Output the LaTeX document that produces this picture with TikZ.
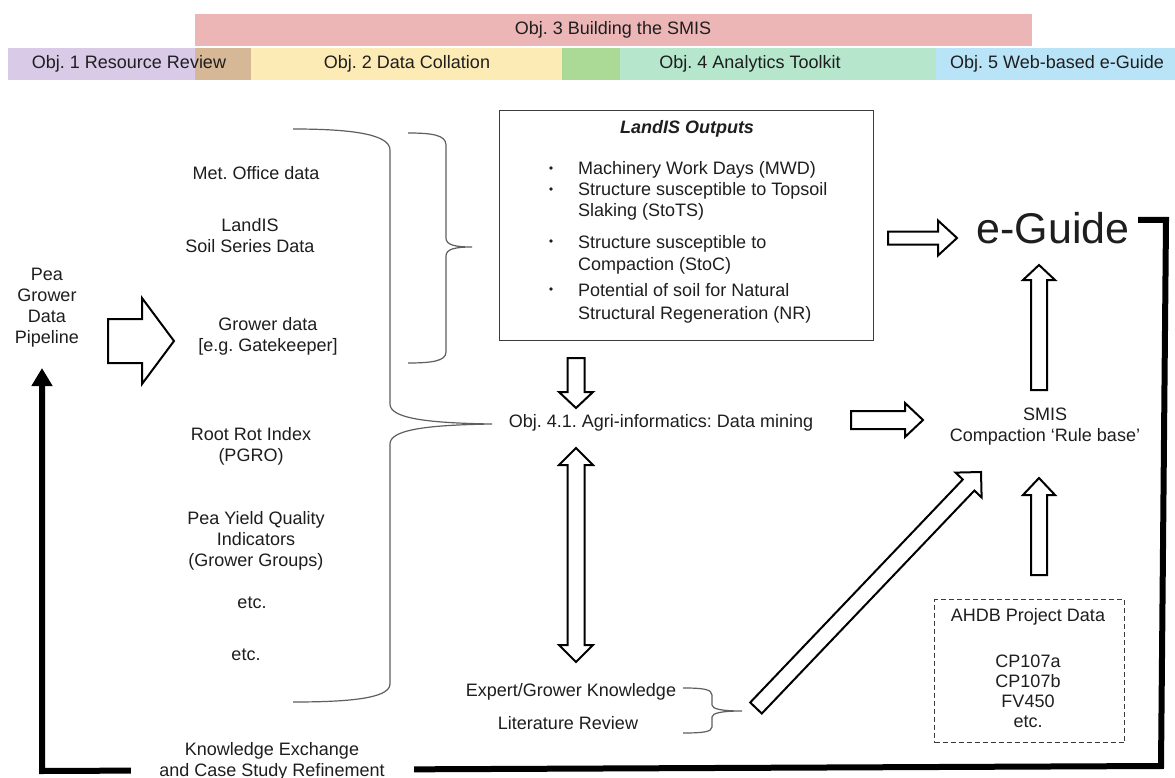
\documentclass[tikz,border=0pt]{standalone}
\usepackage{fontspec}
\setmainfont{Liberation Sans}
\usetikzlibrary{calc,arrows.meta}
\frenchspacing

\definecolor{txt}{RGB}{30,30,30}
\definecolor{bracegray}{RGB}{95,95,95}
\definecolor{boxgray}{RGB}{60,60,60}
\definecolor{objthree}{RGB}{236,182,183}
\definecolor{objone}{RGB}{217,202,232}
\definecolor{objonetwo}{RGB}{214,183,150}
\definecolor{objtwo}{RGB}{253,235,181}
\definecolor{objtwofour}{RGB}{170,218,150}
\definecolor{objfour}{RGB}{182,231,205}
\definecolor{objfive}{RGB}{185,228,247}

% hollow block arrow: tail, tip, shaft half width, head half width, head length
\newcommand\blockarrow[5]{%
  \coordinate (ba-h) at ($(#2)!#5!(#1)$);
  \draw[blockline] ($(#1)!#3!90:(#2)$) -- ($(ba-h)!#3!-90:(#1)$)
    -- ($(ba-h)!#4!-90:(#1)$) -- (#2) -- ($(ba-h)!#4!90:(#1)$)
    -- ($(ba-h)!#3!90:(#1)$) -- ($(#1)!#3!-90:(#2)$) -- cycle;}
% hollow double-headed block arrow: tip, tip, shaft half width, head half width, head length
\newcommand\dblockarrow[5]{%
  \coordinate (dba-a) at ($(#1)!#5!(#2)$);
  \coordinate (dba-b) at ($(#2)!#5!(#1)$);
  \draw[blockline] (#1) -- ($(dba-a)!#4!90:(#2)$) -- ($(dba-a)!#3!90:(#2)$)
    -- ($(dba-b)!#3!-90:(#1)$) -- ($(dba-b)!#4!-90:(#1)$) -- (#2)
    -- ($(dba-b)!#4!90:(#1)$) -- ($(dba-b)!#3!90:(#1)$)
    -- ($(dba-a)!#3!-90:(#2)$) -- ($(dba-a)!#4!-90:(#2)$) -- cycle;}

\tikzset{
  every node/.style={font=\fontsize{18}{21}\selectfont, text=txt, inner sep=0pt},
  lbl/.style={align=center},
  blockline/.style={draw=black, fill=white, line width=2pt, line join=miter},
  bracket/.style={draw=bracegray, line width=1.2pt},
  feedback/.style={draw=black, line width=6pt, line join=miter},
}

\begin{document}
\begin{tikzpicture}[x=1pt, y=-1pt]
\useasboundingbox (0,0) rectangle (1175,778);
\fill[white] (0,0) rectangle (1175,778);

% objective bars
\fill[objthree] (195,14) rectangle (1032,46);
\fill[objone] (8,48) rectangle (251,80);
\fill[objonetwo] (195,48) rectangle (251,80);
\fill[objtwo] (251,48) rectangle (562,80);
\fill[objtwofour] (562,48) rectangle (620,80);
\fill[objfour] (620,48) rectangle (936,80);
\fill[objfive] (936,48) rectangle (1175,80);
\node (o3) at (613,30) {Obj. 3 Building the SMIS};
\node (o1) at (129,64) {Obj. 1 Resource Review};
\node (o2) at (407,64) {Obj. 2 Data Collation};
\node (o4) at (750,64) {Obj. 4 Analytics Toolkit};
\node (o5) at (1057,64) {Obj. 5 Web-based e-Guide};

% data sources
\node[lbl] (pipe) at (47,308) {Pea\\Grower\\Data\\Pipeline};
\node[lbl] (met) at (256,173) {Met. Office data};
\node[lbl] (soil) at (250,236) {LandIS\\Soil Series Data};
\node[lbl] (grower) at (268,336) {Grower data\\{[}e.g. Gatekeeper{]}};
\node[lbl] (rot) at (251,446) {Root Rot Index\\(PGRO)};
\node[lbl] (yield) at (256,541) {Pea Yield Quality\\Indicators\\(Grower Groups)};
\node (etca) at (252,603) {etc.};
\node (etcb) at (246,655) {etc.};

% LandIS outputs box
\node[draw=boxgray, line width=1.2pt, minimum width=374pt, minimum height=230pt,
      anchor=north west] (landis) at (499,110) {};
\node (ltitle) at (687,129) {\bfseries\itshape LandIS Outputs};
\foreach \y in {168,189,241,289} \fill[txt] (551,\y) circle (1.8);
\node[anchor=north west, align=left] (mwd) at (578,161) {Machinery Work Days (MWD)};
\node[anchor=north west, align=left, font=\fontsize{18}{21.5}\selectfont] (stots) at (578,182)
  {Structure susceptible to Topsoil\\Slaking (StoTS)};
\node[anchor=north west, align=left, font=\fontsize{18}{22}\selectfont] (stoc) at (578,235)
  {Structure susceptible to\\Compaction (StoC)};
\node[anchor=north west, align=left, font=\fontsize{18}{23}\selectfont] (nr) at (578,283)
  {Potential of soil for Natural\\Structural Regeneration (NR)};

% analysis and outputs
\node (mining) at (661,423) {Obj. 4.1. Agri-informatics: Data mining};
\node (eguide) at (1053,228) {\fontsize{43}{43}\selectfont e-Guide};
\node[lbl] (smis) at (1045,427) {SMIS\\Compaction ‘Rule base’};
\node (expert) at (571,692) {Expert/Grower Knowledge};
\node (lit) at (568,723) {Literature Review};
\node[draw=boxgray, line width=1.2pt, dash pattern=on 5pt off 3pt,
      minimum width=190pt, minimum height=143pt, anchor=north west] (ahdb) at (934,599) {};
\node (ahdbt) at (1028,617) {AHDB Project Data};
\node[lbl, font=\fontsize{18}{20}\selectfont] (proj) at (1028,691) {CP107a\\CP107b\\FV450\\etc.};

% braces
\draw[bracket] (293,129) .. controls (345,129) and (390,133) .. (390,150)
  -- (390,404) .. controls (390,418) and (425,423) .. (492,424)
  .. controls (425,425) and (390,430) .. (390,444)
  -- (390,684) .. controls (390,699) and (345,702) .. (293,702);
\draw[bracket] (408,133) .. controls (432,133) and (446,135) .. (446,145)
  -- (446,238) .. controls (446,245) and (455,247) .. (472,247)
  .. controls (455,247) and (446,249) .. (446,256)
  -- (446,352) .. controls (446,361) and (432,363) .. (408,363);
\draw[bracket] (683,688) .. controls (702,688) and (712,689) .. (712,695)
  -- (712,705) .. controls (712,709) and (722,711) .. (742,711)
  .. controls (722,711) and (712,713) .. (712,717)
  -- (712,727) .. controls (712,732) and (702,733) .. (683,733);

% block arrows
\coordinate (pa-t) at (108,341);  \coordinate (pa-h) at (174,341);
\coordinate (la-t) at (576,358);  \coordinate (la-h) at (576,408);
\coordinate (da-a) at (576,448);  \coordinate (da-b) at (576,662);
\coordinate (ma-t) at (851,420);  \coordinate (ma-h) at (923,420);
\coordinate (ea-t) at (888,238);  \coordinate (ea-h) at (957,238);
\coordinate (sa-t) at (1039,390); \coordinate (sa-h) at (1039,265);
\coordinate (aa-t) at (1039,575); \coordinate (aa-h) at (1039,478);
\coordinate (ka-t) at (756,708);  \coordinate (ka-h) at (981,472);
\blockarrow{pa-t}{pa-h}{22pt}{43pt}{32pt}
\blockarrow{la-t}{la-h}{8.5pt}{17pt}{16pt}
\dblockarrow{da-a}{da-b}{8.5pt}{17pt}{17pt}
\blockarrow{ma-t}{ma-h}{9pt}{17pt}{18pt}
\blockarrow{ea-t}{ea-h}{6.5pt}{17.5pt}{19pt}
\blockarrow{sa-t}{sa-h}{8pt}{16pt}{15pt}
\blockarrow{aa-t}{aa-h}{8pt}{16pt}{17pt}
\blockarrow{ka-t}{ka-h}{8pt}{18pt}{18pt}

% knowledge exchange feedback loop
\coordinate (fb-a) at (1138,220);
\coordinate (fb-b) at (1166,220);
\coordinate (fb-c) at (1161,766);
\coordinate (fb-d) at (42,771);
\coordinate (fb-e) at (42,368);
\draw[feedback, -{Triangle[width=20pt,length=18pt]}]
  (fb-a) -- (fb-b) -- (fb-c) -- (fb-d) -- (fb-e);
\node[lbl, fill=white, minimum width=283pt, inner ysep=6pt] (ke) at (272,761)
  {Knowledge Exchange\\and Case Study Refinement};
\end{tikzpicture}
\end{document}
